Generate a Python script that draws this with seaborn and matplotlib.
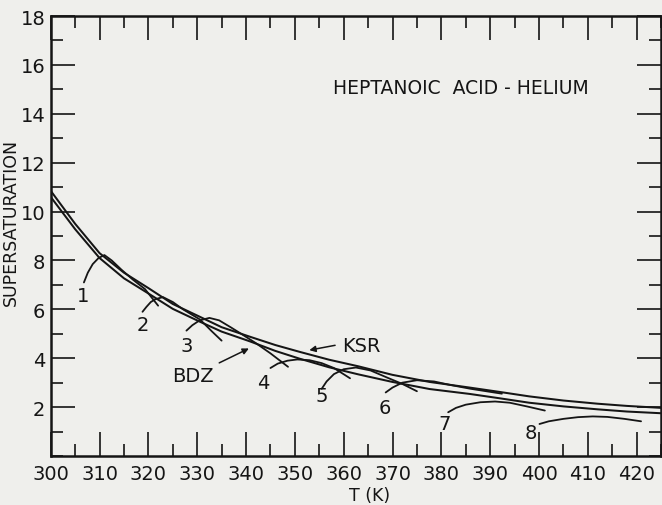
import numpy as np
import pandas as pd
import matplotlib
matplotlib.use("Agg")
import matplotlib.pyplot as plt
import seaborn as sns
from matplotlib.ticker import MultipleLocator

# ---- data ----
ksr_T = [300, 305, 310, 315, 320, 325, 330.6, 335, 340.8, 346, 351, 357, 363, 370,
         377.6, 385.8, 392, 398, 405, 412, 418, 425]
ksr_S = [10.85, 9.5, 8.3, 7.5, 6.87, 6.22, 5.69, 5.27, 4.88, 4.54, 4.26, 3.94, 3.67, 3.32,
         3.03, 2.8, 2.62, 2.44, 2.27, 2.14, 2.05, 1.97]
bdz_T = [300, 305, 310, 315, 320, 325, 330.6, 335, 340.8, 346, 351, 357, 363, 370,
         377.6, 385.8, 392, 398, 405, 412, 418, 425]
bdz_S = [10.6, 9.28, 8.1, 7.27, 6.65, 6.02, 5.49, 5.09, 4.69, 4.3, 3.98, 3.63, 3.34, 3.03,
         2.74, 2.54, 2.36, 2.18, 2.03, 1.91, 1.82, 1.75]

arc_T = {
    "1": [306.8, 307.6, 308.6, 309.8, 311.0, 312.5, 314.5, 316.8, 319.3, 322.0],
    "2": [318.8, 319.6, 320.5, 321.5, 323.0, 325.0, 327.1, 330.6, 333.0, 335.0],
    "3": [327.8, 329.0, 330.5, 332.5, 334.5, 337.0, 339.0, 342.0, 345.0, 348.6],
    "4": [345.0, 346.5, 348.5, 350.5, 353.0, 355.5, 358.0, 361.3],
    "5": [355.5, 356.5, 358.0, 360.0, 362.5, 365.5, 369.0, 372.0, 375.0],
    "6": [368.6, 370.0, 372.0, 375.0, 378.5, 382.0, 386.0, 392.4],
    "7": [381.4, 383.0, 385.0, 388.0, 391.0, 394.0, 397.5, 401.2],
    "8": [400.1, 402.0, 405.0, 408.0, 411.0, 414.0, 417.5, 420.9],
}
arc_S = {
    "1": [7.1, 7.5, 7.85, 8.1, 8.22, 8.0, 7.62, 7.22, 6.83, 6.15],
    "2": [5.9, 6.1, 6.3, 6.42, 6.5, 6.3, 6.0, 5.58, 5.1, 4.72],
    "3": [5.13, 5.35, 5.55, 5.65, 5.55, 5.25, 5.0, 4.62, 4.2, 3.65],
    "4": [3.6, 3.78, 3.9, 3.95, 3.92, 3.8, 3.6, 3.18],
    "5": [2.75, 3.05, 3.35, 3.55, 3.62, 3.5, 3.2, 2.95, 2.65],
    "6": [2.6, 2.8, 3.0, 3.1, 3.05, 2.9, 2.75, 2.55],
    "7": [1.79, 1.97, 2.1, 2.2, 2.23, 2.18, 2.03, 1.86],
    "8": [1.31, 1.42, 1.52, 1.59, 1.62, 1.6, 1.52, 1.42],
}
arc_label_pos = {
    "1": (306.7, 6.56), "2": (318.9, 5.4), "3": (327.8, 4.51), "4": (343.5, 3.0),
    "5": (355.5, 2.47), "6": (368.4, 1.99), "7": (380.7, 1.31), "8": (398.4, 0.97),
}

x_major = list(range(300, 421, 10))
y_major = list(range(2, 19, 2))

# ---- build tables ----
main_df = pd.concat([
    pd.DataFrame({"T": ksr_T, "S": ksr_S, "curve": "KSR"}),
    pd.DataFrame({"T": bdz_T, "S": bdz_S, "curve": "BDZ"}),
])
arc_df = pd.concat([
    pd.DataFrame({"T": arc_T[k], "S": arc_S[k], "curve": k}) for k in arc_T
])

sns.set_theme(style="ticks")
plt.rcParams["font.family"] = ["DejaVu Sans"]

bg = "#efefec"
ink = "#151515"
fig = plt.figure(figsize=(6.62, 5.06), dpi=100, facecolor=bg)
ax = fig.add_axes([0.0766, 0.0968, 0.922, 0.8696])
ax.set_facecolor(bg)

sns.lineplot(data=main_df, x="T", y="S", units="curve", estimator=None, sort=False,
             color=ink, lw=1.45, ax=ax, legend=False)
sns.lineplot(data=arc_df, x="T", y="S", units="curve", estimator=None, sort=False,
             color=ink, lw=1.3, ax=ax, legend=False)

ax.set_xlim(300, 425)
ax.set_ylim(0, 18)
ax.set_xticks(x_major)
ax.set_yticks(y_major)
ax.xaxis.set_minor_locator(MultipleLocator(5))
ax.yaxis.set_minor_locator(MultipleLocator(1))
ax.tick_params(which="both", direction="in", top=True, right=True, colors=ink,
               labelsize=14, width=1.2)
ax.tick_params(which="major", length=17)
ax.tick_params(which="minor", length=8.5)
ax.tick_params(axis="x", pad=6)
ax.tick_params(axis="y", pad=4)
for sp in ax.spines.values():
    sp.set_visible(True)
    sp.set_linewidth(1.8)
    sp.set_color(ink)

ax.set_xlabel("T (K)", fontsize=12.5, color=ink)
ax.xaxis.set_label_coords(0.523, -0.068)
ax.set_ylabel("SUPERSATURATION", fontsize=12.5, color=ink)
ax.yaxis.set_label_coords(-0.05, 0.534)

ax.text(357.8, 15.06, "HEPTANOIC  ACID - HELIUM", fontsize=13.5, color=ink,
        ha="left", va="center")

for k, (tx, sy) in arc_label_pos.items():
    ax.text(tx, sy, k, fontsize=14, color=ink, ha="center", va="center")

ax.text(329.2, 3.31, "BDZ", fontsize=14, color=ink, ha="center", va="center")
ax.annotate("", xy=(341.1, 4.45), xytext=(334.0, 3.76),
            arrowprops=dict(arrowstyle="-|>", color=ink, lw=1.1, mutation_scale=9))
ax.text(359.6, 4.51, "KSR", fontsize=14, color=ink, ha="left", va="center")
ax.annotate("", xy=(352.4, 4.31), xytext=(358.8, 4.55),
            arrowprops=dict(arrowstyle="-|>", color=ink, lw=1.1, mutation_scale=9))

fig.savefig("out.png", dpi=100, facecolor=bg)
